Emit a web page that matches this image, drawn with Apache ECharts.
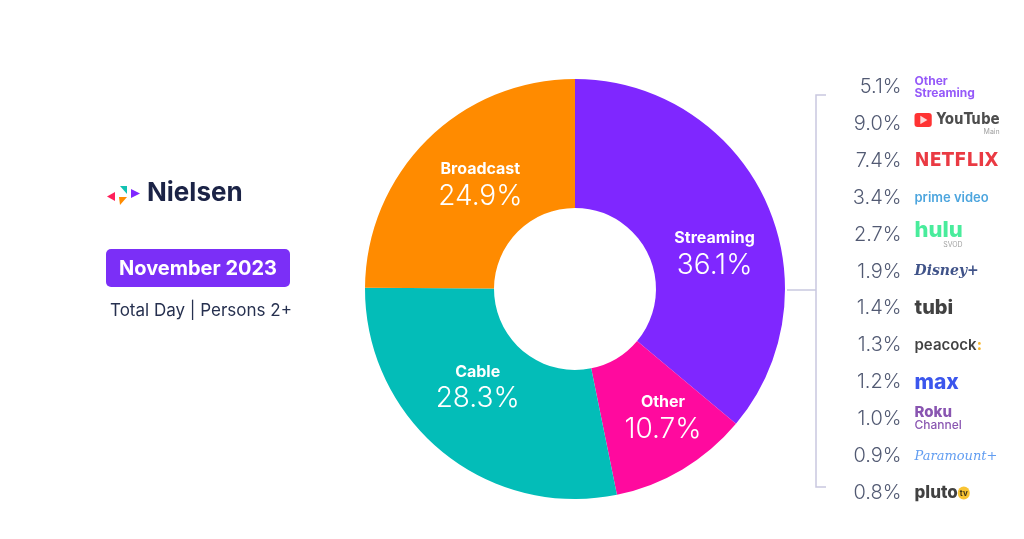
<!DOCTYPE html>
<html>
<head>
<meta charset="utf-8">
<script src="https://cdn.jsdelivr.net/npm/echarts@6/dist/echarts.min.js"></script>
<style>
  html, body { margin: 0; padding: 0; background: #fff; }
  #chart { width: 1024px; height: 539px; }
</style>
</head>
<body>
<div id="chart"></div>
<script>
  // share of TV by platform
  const platforms = ['Streaming', 'Other', 'Cable', 'Broadcast']
  const shares = [36.1, 10.7, 28.3, 24.9]
  const platformColors = ['#7f27ff', '#ff0a9e', '#03bdb8', '#ff8b00']

  // streaming breakdown
  const streamers = ['Other Streaming', 'YouTube', 'Netflix', 'Prime Video', 'Hulu', 'Disney+',
    'Tubi', 'Peacock', 'Max', 'Roku Channel', 'Paramount+', 'Pluto TV']
  const streamerShares = [5.1, 9.0, 7.4, 3.4, 2.7, 1.9, 1.4, 1.3, 1.2, 1.0, 0.9, 0.8]

  const navy = '#26304f'
  const font = 'Inter, Roboto, sans-serif'

  // how each streamer name is written (stand-in for the logos)
  const brandText = {
    'Other Streaming': '{os|Other}\n{os|Streaming}',
    'YouTube': '{ytb|▶}{yt| YouTube}\n{sub|Main}',
    'Netflix': '{nf|NETFLIX}',
    'Prime Video': '{pv|prime video}',
    'Hulu': '{hulu|hulu}\n{sub|SVOD}',
    'Disney+': '{dis|Disney+}',
    'Tubi': '{tubi|tubi}',
    'Peacock': '{pea|peacock}{pk1|:}',
    'Max': '{max|max}',
    'Roku Channel': '{roku|Roku}\n{rokuc|Channel}',
    'Paramount+': '{para|Paramount+}',
    'Pluto TV': '{pluto|pluto}{tv|tv}'
  }

  // nudges for the in-slice labels
  const labelNudge = {
    Streaming: [5, 28],
    Other: [12, 2],
    Cable: [-3, -16],
    Broadcast: [10, 2]
  }

  const listPoints = streamers.map((s, i) => [0, s, streamerShares[i]])

  const option = {
    animation: false,
    grid: { left: 908, right: 10, top: 68.5, bottom: 27.5 },
    xAxis: { type: 'value', min: 0, max: 1, show: false },
    yAxis: { type: 'category', data: streamers, inverse: true, show: false },
    graphic: [
      // Nielsen mark
      { type: 'polygon', shape: { points: [[107, 196.5], [115, 192], [115, 201]] }, style: { fill: '#ff1f5a' } },
      { type: 'polygon', shape: { points: [[120, 186], [127, 186], [127, 194]] }, style: { fill: '#12c2b2' } },
      { type: 'polygon', shape: { points: [[119, 197], [127, 197], [120, 205]] }, style: { fill: '#ff8b00' } },
      { type: 'polygon', shape: { points: [[131, 189], [140, 193.5], [131, 198]] }, style: { fill: '#7f27ff' } },
      {
        type: 'text', left: 147, top: 180,
        style: { text: 'Nielsen', font: '700 26px ' + font, fill: '#1b2346' }
      },
      {
        type: 'rect', shape: { x: 106, y: 249, width: 184, height: 38, r: 5 },
        style: { fill: '#7b2ff7' }
      },
      {
        type: 'text', x: 198, y: 269,
        style: { text: 'November 2023', font: '700 20px ' + font, fill: '#fff', textAlign: 'center', textVerticalAlign: 'middle' }
      },
      {
        type: 'text', x: 110, y: 311,
        style: { text: 'Total Day | Persons 2+', font: '400 17px ' + font, fill: navy, textVerticalAlign: 'middle' }
      },
      // bracket
      {
        type: 'polyline', shape: { points: [[826, 95], [816, 95], [816, 487], [826, 487]] },
        style: { stroke: '#c9c8df', lineWidth: 1.5, fill: null }
      },
      {
        type: 'line', shape: { x1: 787, y1: 290, x2: 816, y2: 290 },
        style: { stroke: '#c9c8df', lineWidth: 1.5 }
      }
    ],
    series: [
      {
        type: 'pie',
        center: [575, 289],
        radius: [81, 210],
        startAngle: 90,
        clockwise: true,
        data: platforms.map((p, i) => ({ name: p, value: shares[i], itemStyle: { color: platformColors[i] } })),
        label: {
          position: 'inside',
          formatter: p => '{name|' + p.name + '}\n{val|' + p.value.toFixed(1) + '%}',
          rich: {
            name: { fontFamily: font, fontSize: 16, fontWeight: 700, color: '#fff', lineHeight: 22, align: 'center' },
            val: { fontFamily: font, fontSize: 28, fontWeight: 300, color: '#fff', lineHeight: 32, align: 'center' }
          }
        },
        labelLayout: p => {
          const n = labelNudge[platforms[p.dataIndex]]
          return { dx: n[0], dy: n[1] }
        },
        labelLine: { show: false },
        emphasis: { disabled: true }
      },
      {
        type: 'scatter',
        data: listPoints,
        symbolSize: 1,
        itemStyle: { color: 'rgba(0,0,0,0)' },
        label: {
          show: true,
          position: 'left',
          distance: 6,
          formatter: p => p.data[2].toFixed(1) + '%',
          fontFamily: font,
          fontSize: 20,
          fontWeight: 300,
          color: navy
        },
        emphasis: { disabled: true }
      },
      {
        type: 'scatter',
        data: listPoints,
        symbolSize: 1,
        itemStyle: { color: 'rgba(0,0,0,0)' },
        label: {
          show: true,
          position: 'right',
          distance: 6,
          formatter: p => brandText[p.data[1]],
          rich: {
            os: { fontFamily: font, fontSize: 12, fontWeight: 700, color: '#7b2ff7', lineHeight: 12 },
            ytb: { fontFamily: font, fontSize: 9, color: '#fff', backgroundColor: '#ff0000', borderRadius: 3, padding: [3, 4, 2, 5], lineHeight: 16 },
            yt: { fontFamily: '"Liberation Sans Narrow", "DejaVu Sans Condensed", sans-serif', fontSize: 15, fontWeight: 700, color: '#202020', lineHeight: 16 },
            sub: { fontFamily: font, fontSize: 7, color: '#888', align: 'right', lineHeight: 8 },
            nf: { fontFamily: '"Liberation Sans Narrow", "DejaVu Sans Condensed", sans-serif', fontSize: 20, fontWeight: 700, color: '#e50914' },
            pv: { fontFamily: font, fontSize: 13, fontWeight: 600, color: '#1f8fd6' },
            hulu: { fontFamily: font, fontSize: 22, fontWeight: 800, color: '#1ce783', lineHeight: 20 },
            dis: { fontFamily: '"DejaVu Serif", serif', fontSize: 14, fontWeight: 700, fontStyle: 'italic', color: '#10286b' },
            tubi: { fontFamily: font, fontSize: 20, fontWeight: 800, color: '#111' },
            pea: { fontFamily: font, fontSize: 15, fontWeight: 600, color: '#111' },
            pk1: { fontFamily: font, fontSize: 15, fontWeight: 800, color: '#f6a800' },
            max: { fontFamily: font, fontSize: 21, fontWeight: 800, color: '#0a2ce8' },
            roku: { fontFamily: font, fontSize: 15, fontWeight: 800, color: '#6c2b9e', lineHeight: 13 },
            rokuc: { fontFamily: font, fontSize: 12, fontWeight: 500, color: '#6c2b9e', lineHeight: 13 },
            para: { fontFamily: '"DejaVu Serif", serif', fontSize: 13, fontStyle: 'italic', color: '#3a84ee' },
            pluto: { fontFamily: font, fontSize: 17, fontWeight: 800, color: '#111' },
            tv: { fontFamily: font, fontSize: 8, fontWeight: 700, color: '#111', backgroundColor: '#f7b500', borderRadius: 7, padding: [3, 2, 2, 2] }
          }
        },
        emphasis: { disabled: true }
      }
    ]
  }

  const chart = echarts.init(document.getElementById('chart'))
  chart.setOption(option)
</script>
</body>
</html>
